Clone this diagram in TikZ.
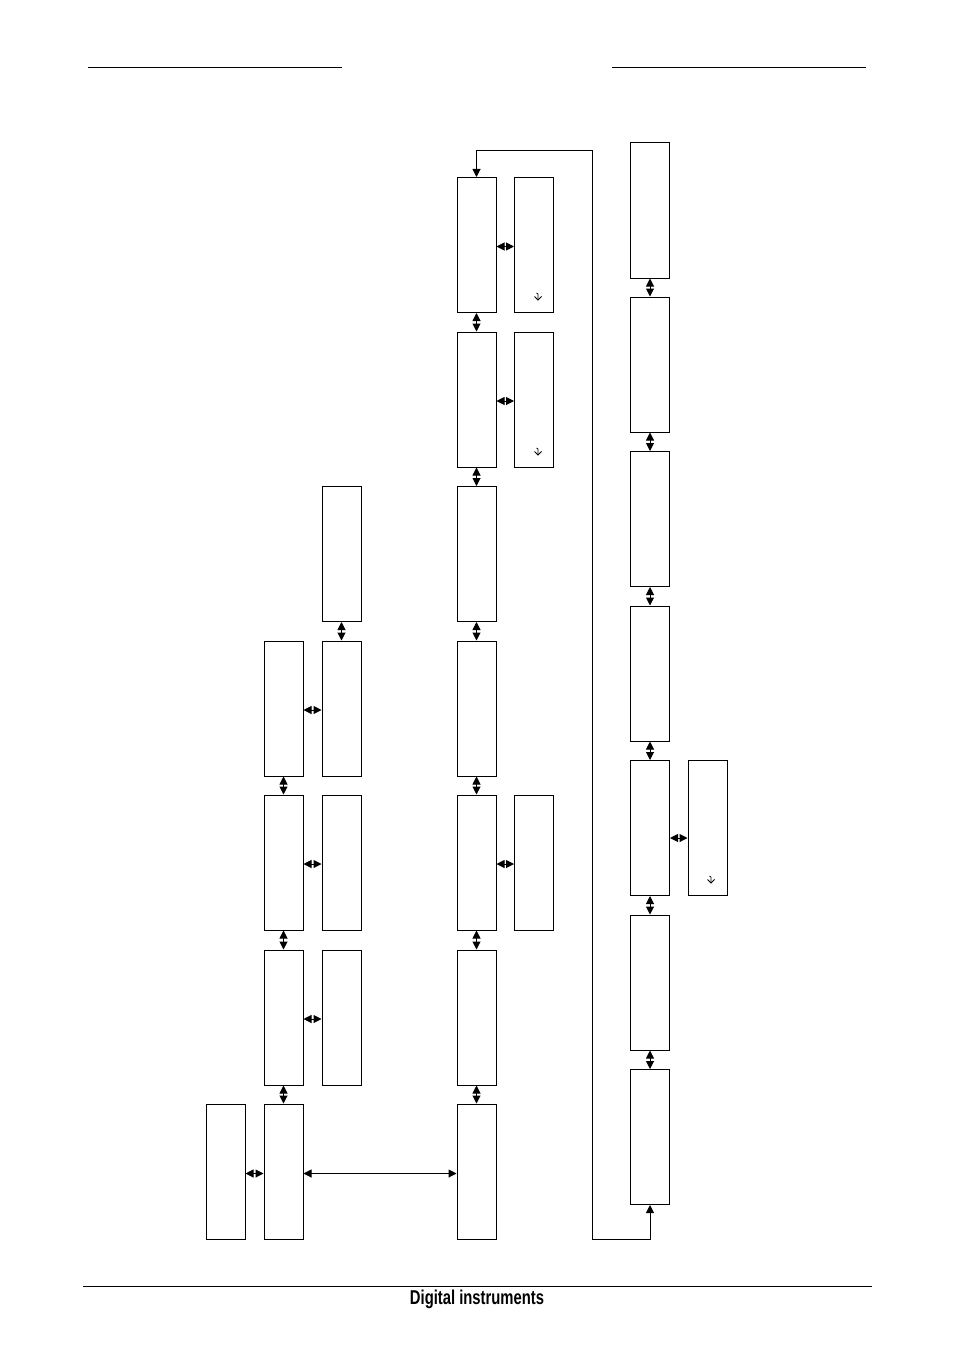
\documentclass[tikz,border=0pt]{standalone}
\usepackage{fontspec}
\setmainfont{Liberation Sans}
\usetikzlibrary{arrows.meta}
\begin{document}
\begin{tikzpicture}[x=1pt,y=-1pt,
  box/.style={draw,line width=1pt,minimum width=39pt,minimum height=135pt,inner sep=0pt},
  dbl/.style={line width=1pt,{Triangle[length=8pt,width=8pt]}-{Triangle[length=8pt,width=8pt]}},
  rule/.style={line width=1pt},
  enter/.style={line width=0.8pt}]
\useasboundingbox (0,0) rectangle (954,1351);
\fill[white] (0,0) rectangle (954,1351);
% header / footer
\draw[rule] (88,68) -- (342,68);
\draw[rule] (612,68) -- (866,68);
\draw[rule] (83,1286) -- (872,1286);
\node (footer) at (477,1299) {\scalebox{0.74}[1]{\fontsize{20}{20}\selectfont\bfseries Digital instruments}};
% column A
\node[box] (a1) at (225.5,1171.5) {};
% column B
\node[box] (b1) at (283.5,708.5) {};
\node[box] (b2) at (283.5,862.5) {};
\node[box] (b3) at (283.5,1017.5) {};
\node[box] (b4) at (283.5,1171.5) {};
% column C
\node[box] (c1) at (341.5,554) {};
\node[box] (c2) at (341.5,708.5) {};
\node[box] (c3) at (341.5,862.5) {};
\node[box] (c4) at (341.5,1017.5) {};
% column D
\node[box] (d1) at (476.5,245) {};
\node[box] (d2) at (476.5,399.5) {};
\node[box] (d3) at (476.5,554) {};
\node[box] (d4) at (476.5,708.5) {};
\node[box] (d5) at (476.5,862.5) {};
\node[box] (d6) at (476.5,1017.5) {};
\node[box] (d7) at (476.5,1171.5) {};
% column E
\node[box] (e1) at (534,245) {};
\node[box] (e2) at (534,399.5) {};
\node[box] (e3) at (534,862.5) {};
% column F
\node[box] (f1) at (650,210.5) {};
\node[box] (f2) at (650,364.5) {};
\node[box] (f3) at (650,519) {};
\node[box] (f4) at (650,673.5) {};
\node[box] (f5) at (650,828) {};
\node[box] (f6) at (650,982.5) {};
\node[box] (f7) at (650,1137) {};
% column G
\node[box] (g1) at (707.5,828) {};
% vertical connectors
\draw[dbl] (b1.south) -- (b2.north);
\draw[dbl] (b2.south) -- (b3.north);
\draw[dbl] (b3.south) -- (b4.north);
\draw[dbl] (c1.south) -- (c2.north);
\draw[dbl] (d1.south) -- (d2.north);
\draw[dbl] (d2.south) -- (d3.north);
\draw[dbl] (d3.south) -- (d4.north);
\draw[dbl] (d4.south) -- (d5.north);
\draw[dbl] (d5.south) -- (d6.north);
\draw[dbl] (d6.south) -- (d7.north);
\draw[dbl] (f1.south) -- (f2.north);
\draw[dbl] (f2.south) -- (f3.north);
\draw[dbl] (f3.south) -- (f4.north);
\draw[dbl] (f4.south) -- (f5.north);
\draw[dbl] (f5.south) -- (f6.north);
\draw[dbl] (f6.south) -- (f7.north);
% horizontal connectors
\draw[dbl] ([yshift=-2pt]a1.east) -- ([yshift=-2pt]b4.west);
\draw[dbl] ([yshift=-2pt]b4.east) -- ([yshift=-2pt]d7.west);
\draw[dbl] ([yshift=-1.5pt]b1.east) -- ([yshift=-1.5pt]c2.west);
\draw[dbl] ([yshift=-1.5pt]b2.east) -- ([yshift=-1.5pt]c3.west);
\draw[dbl] ([yshift=-1.5pt]b3.east) -- ([yshift=-1.5pt]c4.west);
\draw[dbl] ([yshift=-1.5pt]d1.east) -- ([yshift=-1.5pt]e1.west);
\draw[dbl] ([yshift=-1.5pt]d2.east) -- ([yshift=-1.5pt]e2.west);
\draw[dbl] ([yshift=-1.5pt]d5.east) -- ([yshift=-1.5pt]e3.west);
\draw[dbl] ([yshift=-10pt]f5.east) -- ([yshift=-10pt]g1.west);
% loop connector
\coordinate (lp1) at (476.5,151);
\coordinate (lp2) at (592,151);
\coordinate (lp3) at (592,1239);
\coordinate (lp4) at (650,1239);
\draw[dbl] (d1.north) -- (lp1) -- (lp2) -- (lp3) -- (lp4) -- (f7.south);
% enter glyphs
\foreach \gx/\gy in {538/297, 538/452, 711/880}{
  \draw[enter] (\gx-1.5,\gy-4) -- (\gx,\gy-3) -- (\gx,\gy+3);
  \draw[enter] (\gx-3.5,\gy-0.5) -- (\gx,\gy+3) -- (\gx+3.5,\gy-0.5);
}
\end{tikzpicture}
\end{document}
